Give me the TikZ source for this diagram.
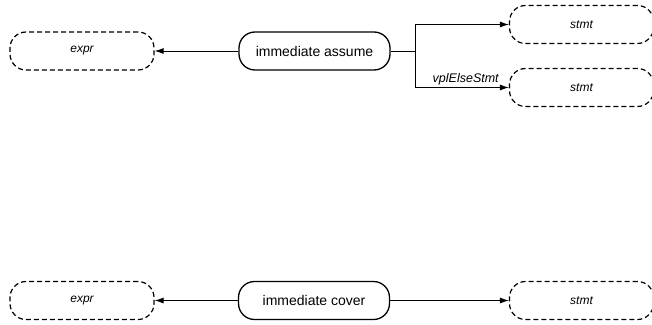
\documentclass[tikz,border=0pt]{standalone}
\usepackage{fontspec}
\setmainfont{Liberation Sans}
\usetikzlibrary{arrows.meta}
\begin{document}
\begin{tikzpicture}[x=1pt, y=-1pt, thin]
				\tikzstyle{block}=[draw, line width=1.3pt, rounded corners=16pt, minimum width=151pt, minimum height=38pt, inner sep=0pt, font=\fontsize{14}{16}\selectfont]
				\tikzstyle{ref}=[draw, dashed, dash pattern=on 5pt off 3pt, line width=1.2pt, rounded corners=16pt, minimum width=144pt, minimum height=38pt, inner sep=0pt, font=\itshape\fontsize{12}{14}\selectfont]
				\tikzstyle{link}=[-{Latex[length=9pt,width=6pt]}, line width=0.9pt]
				\useasboundingbox (0,0) rectangle (652,324);
				
				% immediate assume
				\node[block] (Node-assume) at (314.5,51) {immediate assume};
				\node[ref] (Node-expr1) at (82,51) {expr};
				\node[ref] (Node-stmt1) at (581.5,24.5) {stmt};
				\node[ref] (Node-stmt2) at (581.5,87.5) {stmt};
				\coordinate (Split) at (415,51);
				
				\draw[link] (Node-assume) -- (Node-expr1);
				\draw[line width=0.9pt] (Node-assume) -- (Split);
				\draw[link] (Split) |- (Node-stmt1);
				\draw[link] (Split) |- node[pos=0.77, above, inner sep=2pt, font=\itshape\fontsize{12.5}{14}\selectfont] {vplElseStmt} (Node-stmt2);
				
				% immediate cover
				\node[block] (Node-cover) at (314,300.5) {immediate cover};
				\node[ref] (Node-expr2) at (82,300.5) {expr};
				\node[ref] (Node-stmt3) at (581.5,300.5) {stmt};
				
				\draw[link] (Node-cover) -- (Node-expr2);
				\draw[link] (Node-cover) -- (Node-stmt3);
				\end{tikzpicture}
\end{document}
